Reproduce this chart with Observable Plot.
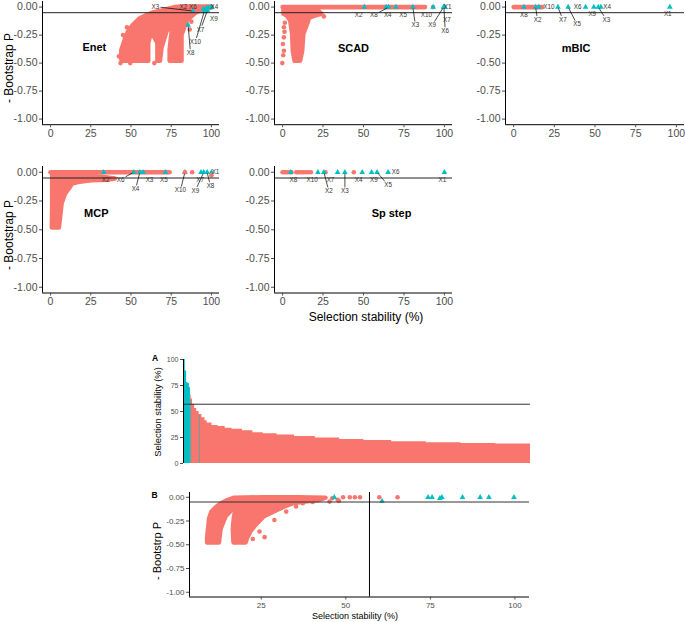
<!DOCTYPE html>
<html><head><meta charset="utf-8">
<script src="https://cdn.jsdelivr.net/npm/d3@7"></script>
<script src="https://cdn.jsdelivr.net/npm/@observablehq/plot@0.6"></script>
<style>
html,body{margin:0;padding:0;background:#fff;}
#fig{position:relative;width:685px;height:622px;overflow:hidden;font-family:"Liberation Sans",Arial,sans-serif;background:#fff;}
#fig svg{position:absolute;overflow:visible;}
.t{position:absolute;white-space:nowrap;color:#000;transform:translate(-50%,-50%);line-height:1;}
.r{transform:translate(-50%,-50%) rotate(-90deg);}
</style></head><body><div id="fig"></div>
<script>
// ---------------- DATA ----------------
const varNames = ["X1","X2","X3","X4","X5","X6","X7","X8","X9","X10"];
const xTicks = [0, 25, 50, 75, 100];
const pTicks = [0, -0.25, -0.5, -0.75, -1];

// Enet
const enetStab = [100, 98, 88.5, 99.5, 95, 97, 97.5, 85.5, 96.5, 95.5];
const enetP = [0, -0.005, -0.035, -0.003, -0.015, -0.01, -0.03, -0.16, -0.02, -0.04];
const enetCloud = [[100,0.005],[90,0.005],[83,0.005],[77,0],[69,-0.03],[63,-0.05],[59,-0.075],[55,-0.105],[51,-0.16],[48,-0.22],[46,-0.295],[44,-0.38],[43.8,-0.46],[44.5,-0.48],[60.7,-0.48],[60.7,-0.32],[62.6,-0.22],[66.4,-0.32],[66.4,-0.48],[68,-0.48],[69,-0.36],[72,-0.22],[76.5,-0.12],[75,-0.25],[74,-0.38],[74,-0.48],[81.4,-0.48],[81.4,-0.25],[84.5,-0.12],[90,-0.05],[96.5,-0.015],[100,-0.005]];
const enetRed = [[43.5,-0.5],[49.5,-0.5],[64.5,-0.5],[86.5,-0.2],[87.5,-0.13],[42.5,-0.44],[45,-0.25],[47.5,-0.18]];

// SCAD
const scadStab = [100, 50.5, 80.5, 64, 70, 99.7, 99.8, 65.5, 99.5, 93];
const scadP = [0, 0, 0, 0, 0, 0, 0, 0, 0, 0];
const scadBand = [[0,0],[88,0]];
const scadCloud = [[0.5,-0.01],[12,-0.015],[22,-0.03],[24,-0.06],[20,-0.075],[16,-0.1],[15.9,-0.12],[12.8,-0.24],[12.1,-0.39],[10.8,-0.48],[7.4,-0.48],[6.3,-0.39],[5.9,-0.24],[4.7,-0.12],[2.5,-0.075],[0.5,-0.06]];
const scadRed = [[-0.2,-0.5],[0.4,-0.43],[0.8,-0.39],[0.2,-0.33],[0.8,-0.27],[1.2,-0.22],[0.8,-0.18],[1.4,-0.14],[25.5,-0.083],[93,0]];

// mBIC
const mbicStab = [96, 13.5, 52, 53.6, 33.5, 44.2, 27.2, 6.3, 49.3, 15.5];
const mbicP = [0, 0, 0, 0, 0, 0, 0, 0, 0, 0];
const mbicBand = [[0,0],[17.5,0]];

// MCP
const mcpStab = [100, 33, 57.5, 55.5, 71.4, 51.7, 93.5, 97.3, 95.2, 83.5];
const mcpP = [0, 0, 0, 0, 0, 0, 0, 0, 0, 0];
const mcpBand = [[0,0],[74,0]];
const mcpCloud = [[1,-0.02],[20,-0.03],[33,-0.04],[40,-0.055],[35,-0.065],[25,-0.07],[17,-0.085],[13,-0.1],[12.1,-0.128],[9,-0.186],[6.9,-0.27],[6,-0.38],[5.2,-0.48],[0.8,-0.48],[1,-0.3],[1,-0.1]];
const mcpRed = [[83.5,0],[88,0],[100,-0.025],[11.4,-0.113]];

// Sp step
const spStab = [100, 25.5, 38.5, 49.2, 58.4, 65.2, 34, 5, 55, 21.8];
const spP = [0, 0, 0, 0, 0, 0, 0, 0, 0, 0];
const spRedStab = [0, 1, 2, 3, 4.5, 5.5, 8.5, 9.5, 10.5, 12, 13, 14.5, 16, 17.5, 26.5, 44];

// Panel A: sorted selection stability
const aTealRank = [0, 5, 9, 12.5, 17, 20];
const aTealStab = [100, 89, 78, 77, 73, 73];
const aRedRank = [20, 22, 26, 32, 38, 45, 53, 62, 68, 82, 100, 120, 140, 170, 200, 230, 270, 320, 380, 450, 520, 600, 700, 800, 900, 1000];
const aRedStab = [66, 62, 57, 53, 50, 47, 44, 41, 39, 36.5, 35.5, 34, 33, 31.5, 29.5, 28.5, 27.5, 26, 24.5, 23, 22, 21, 20, 19.3, 18.7, 18];
const aMarkRank = [20.5, 45.5];
const aMarkStab = [60, 46];
const aTicks = [0, 25, 50, 75, 100];
const stabThreshold = 57;
const pThreshold = -0.05;

// Panel B
const bCloud = [[44,-0.005],[36,0],[25,0],[17,-0.005],[15,-0.03],[13,-0.065],[11.7,-0.1],[10.3,-0.15],[9.6,-0.22],[9.4,-0.29],[9,-0.43],[9,-0.475],[12.5,-0.475],[13,-0.33],[14.5,-0.2],[16.8,-0.11],[17.2,-0.16],[16.9,-0.22],[16.6,-0.33],[16.8,-0.475],[20.4,-0.475],[20.8,-0.43],[21.8,-0.36],[23.3,-0.29],[25.8,-0.2],[28.7,-0.15],[31.7,-0.1],[34.6,-0.06],[38,-0.045],[42,-0.03]];
const bRed = [[28.9,-0.239],[32.4,-0.151],[35.3,-0.098],[37.3,-0.063],[40.2,-0.05],[45.2,-0.046],[47.6,-0.028],[49.2,0],[51.2,0],[52.7,0],[54.2,0],[59.9,0],[65.3,0],[46,-0.01],[48,-0.04],[24.5,-0.36],[26,-0.42],[22.5,-0.44]];
const bTealStab = [46.6, 60.7, 74.3, 75.5, 77.8, 78.4, 84.5, 89.7, 92.3, 99.7];
const bTealP = [0, -0.042, 0, 0, -0.012, 0, 0, 0, 0, 0];
const bTicks = [25, 50, 75, 100];

// ---------------- LAYOUT ----------------
const RED = "#F8766D", TEAL = "#00BFC4";
const FONT = "'Liberation Sans', Arial, sans-serif";
const LFS = 6.3; // repel label font size
const fig = document.getElementById("fig");
const fmtP = d => d.toFixed(2);

const enetLab = {X2:[82.5,0.004,0], X3:[65.2,0.004,1], X4:[101.8,0.002,0], X6:[88.5,0.004,0], X7:[93.2,-0.2,1], X8:[87,-0.41,1], X9:[101.5,-0.11,0], X10:[90,-0.31,1]};
const scadLab = {X1:[102,0,0], X2:[47,-0.074,0], X3:[82.1,-0.163,1], X4:[65,-0.074,0], X5:[74.5,-0.074,0], X6:[100.5,-0.214,1], X7:[101.5,-0.113,0], X8:[56.4,-0.074,1], X9:[92.4,-0.163,1], X10:[88.9,-0.074,0]};
const mbicLab = {X1:[94.7,-0.06,0], X2:[14.7,-0.113,1], X3:[57,-0.113,1], X4:[57.5,0,0], X5:[39,-0.155,1], X6:[39.3,0,0], X7:[30.3,-0.113,1], X8:[6.3,-0.07,0], X9:[48.3,-0.065,0], X10:[21.7,0,0]};
const mcpLab = {X1:[102.5,0,0], X2:[34.2,-0.064,0], X3:[61.5,-0.064,0], X4:[52.8,-0.148,1], X5:[70.4,-0.064,0], X6:[43.5,-0.064,1], X7:[93,-0.064,0], X8:[99.4,-0.12,1], X9:[90,-0.16,1], X10:[80.7,-0.157,1]};
const spLab = {X1:[98.8,-0.064,0], X2:[28.6,-0.165,1], X3:[38.5,-0.165,1], X4:[47,-0.064,0], X5:[65.2,-0.113,1], X6:[69.8,0,0], X7:[29.6,-0.064,0], X8:[6.6,-0.064,0], X9:[56.4,-0.064,0], X10:[18.3,-0.064,0]};

function labelLayer(xs, ys, lab, kx, ky) {
  const texts = [], segs = [];
  varNames.forEach((n, i) => {
    const L = lab[n]; if (!L) return;
    texts.push({x: L[0], y: L[1], t: n});
    if (L[2]) {
      const dx = xs[i] - L[0], dy = ys[i] - L[1];
      const dxp = dx * kx, dyp = dy * ky;
      const len = Math.hypot(dxp, dyp);
      const hw = n.length * 0.3 * LFS + 1.2, hh = LFS * 0.45 + 1;
      const t = Math.min(dxp ? hw / Math.abs(dxp) : Infinity, dyp ? hh / Math.abs(dyp) : Infinity);
      const t2 = 1 - 1.5 / len;
      if (t < t2) segs.push({x1: L[0] + t*dx, y1: L[1] + t*dy, x2: L[0] + t2*dx, y2: L[1] + t2*dy});
    }
  });
  return [
    Plot.link(segs, {x1: "x1", y1: "y1", x2: "x2", y2: "y2", stroke: "#000", strokeWidth: 0.7}),
    Plot.text(texts, {x: "x", y: "y", text: "t", fontSize: LFS, fill: "#333"})
  ];
}

function buildPanel(o) {
  const ml = 45, mr = 20, mt = 8, mb = 24;
  const [x0, x1, y0, y1] = o.rect;
  const w = x1 - x0, h = y1 - y0;
  const axes = [
    Plot.ruleX([o.xd[0]], {stroke: "#000", strokeWidth: 1}),
    Plot.axisY({ticks: o.yt, tickFormat: o.fmt, tickSize: 3, tickPadding: 2, fontSize: o.fs, label: null})
  ];
  if (!o.noX) axes.push(
    Plot.ruleY([o.yd[0]], {stroke: "#000", strokeWidth: 1}),
    Plot.axisX({ticks: o.xt, tickFormat: d => String(d), tickSize: 3, tickPadding: 2, fontSize: o.fs, label: null})
  );
  const svg = Plot.plot({
    width: w + ml + mr, height: h + mt + mb,
    marginLeft: ml, marginRight: mr, marginTop: mt, marginBottom: mb,
    x: o.noX ? {domain: o.xd, axis: null} : {domain: o.xd},
    y: {domain: o.yd},
    style: {fontFamily: FONT, fontSize: o.fs + "px", color: "#4D4D4D", background: "transparent", overflow: "visible"},
    marks: [...o.marks, ...axes]
  });
  svg.style.left = (x0 - ml) + "px";
  svg.style.top = (y0 - mt) + "px";
  fig.appendChild(svg);
}

const cloud = pts => Plot.line(pts, {x: d => d[0], y: d => d[1], fill: RED, stroke: RED, strokeWidth: 4.5, strokeLinejoin: "round", curve: "linear-closed"});
const band = pts => Plot.line(pts, {x: d => d[0], y: d => d[1], stroke: RED, strokeWidth: 4.6, strokeLinecap: "round"});
const redDots = pts => Plot.dot(pts, {x: d => d[0], y: d => d[1], r: 2.3, fill: RED});
const tri = (xs, ys) => Plot.dot(varNames.map((n, i) => ({x: xs[i], y: ys[i]})), {x: "x", y: "y", symbol: "triangle", r: 2.1, fill: TEAL});
const hline = () => Plot.ruleY([pThreshold], {stroke: "#222", strokeWidth: 1});
const title = (s, x, y) => Plot.text([s], {x: () => x, y: () => y, text: d => d, fontSize: 11, fontWeight: "bold", fill: "#000"});

function gridPanel(rect, layers, stab, P, lab, ttl) {
  const xd = [-5, 105], yd = [-1.05, 0.05];
  const kx = (rect[1] - rect[0]) / (xd[1] - xd[0]), ky = (rect[3] - rect[2]) / (yd[1] - yd[0]);
  buildPanel({rect, xd, yd, xt: xTicks, yt: pTicks, fmt: fmtP, fs: 10.5,
    marks: [...layers, tri(stab, P), ...(ttl.after || []), hline(), ...labelLayer(stab, P, lab, kx, ky), title(ttl.s, ttl.x, ttl.y)]});
}

gridPanel([42, 219, 1.4, 124.6], [cloud(enetCloud), redDots(enetRed)], enetStab, enetP, enetLab, {s: "Enet", x: 27.2, y: -0.363});
gridPanel([274, 452, 1.4, 124.6], [band(scadBand), cloud(scadCloud), redDots(scadRed)], scadStab, scadP, scadLab, {s: "SCAD", x: 43.8, y: -0.365});
gridPanel([505, 684, 1.4, 124.6], [band(mbicBand)], mbicStab, mbicP, mbicLab, {s: "mBIC", x: 38.4, y: -0.365});
gridPanel([42, 219, 166.3, 292.8], [band(mcpBand), cloud(mcpCloud)], mcpStab, mcpP, mcpLab, {s: "MCP", x: 28.4, y: -0.36, after: [redDots(mcpRed)]});
gridPanel([274, 452, 166.3, 292.8], [redDots(spRedStab.map(v => [v, 0]))], spStab, spP, spLab, {s: "Sp step", x: 67.3, y: -0.36});

// Panel A
const aTeal = aTealRank.map((r, i) => ({r, v: aTealStab[i]}));
const aRed = aRedRank.map((r, i) => ({r, v: aRedStab[i]}));
const aMark = aMarkRank.map((r, i) => ({r, v: aMarkStab[i]}));
buildPanel({rect: [183, 530, 359, 463], xd: [0, 1000], yd: [0, 100], yt: aTicks, fmt: d => String(d), fs: 7, noX: true,
  marks: [
    Plot.areaY(aRed, {x: "r", y: "v", curve: "step-after", fill: RED}),
    Plot.areaY(aTeal, {x: "r", y: "v", curve: "step-after", fill: TEAL}),
    Plot.ruleX(aMark, {x: "r", y1: 0, y2: "v", stroke: "#5FA3A0", strokeWidth: 1}),
    Plot.ruleY([stabThreshold], {stroke: "#333", strokeWidth: 1})
  ]});

// Panel B
buildPanel({rect: [189, 529, 492.25, 596.75], xd: [3.8, 104.3], yd: [-1.05, 0.05], xt: bTicks, yt: pTicks, fmt: fmtP, fs: 8,
  marks: [
    cloud(bCloud), redDots(bRed),
    Plot.dot(bTealStab.map((s, i) => ({s, p: bTealP[i]})), {x: "s", y: "p", symbol: "triangle", r: 2.1, fill: TEAL}),
    Plot.ruleY([pThreshold], {stroke: "#333", strokeWidth: 1}),
    Plot.ruleX([stabThreshold], {stroke: "#000", strokeWidth: 1})
  ]});

// ---------------- TEXT ----------------
function addText(s, x, y, size, rot, bold) {
  const d = document.createElement("div");
  d.className = "t" + (rot ? " r" : "");
  d.textContent = s;
  d.style.left = x + "px"; d.style.top = y + "px";
  d.style.fontSize = size + "px";
  if (bold) d.style.fontWeight = "bold";
  fig.appendChild(d);
}
addText("- Bootstrap P", 8.5, 67.5, 12, true);
addText("- Bootstrap P", 8.5, 235, 12, true);
addText("Selection stability (%)", 366, 316.5, 12);
addText("A", 155, 358, 8.5, false, true);
addText("Selection stability (%)", 158.3, 411.7, 9.4, true);
addText("B", 154.5, 495, 8.5, false, true);
addText("- Bootstrp P", 156.7, 551, 11, true);
addText("Selection stability (%)", 355, 615.5, 9);
</script></body></html>
